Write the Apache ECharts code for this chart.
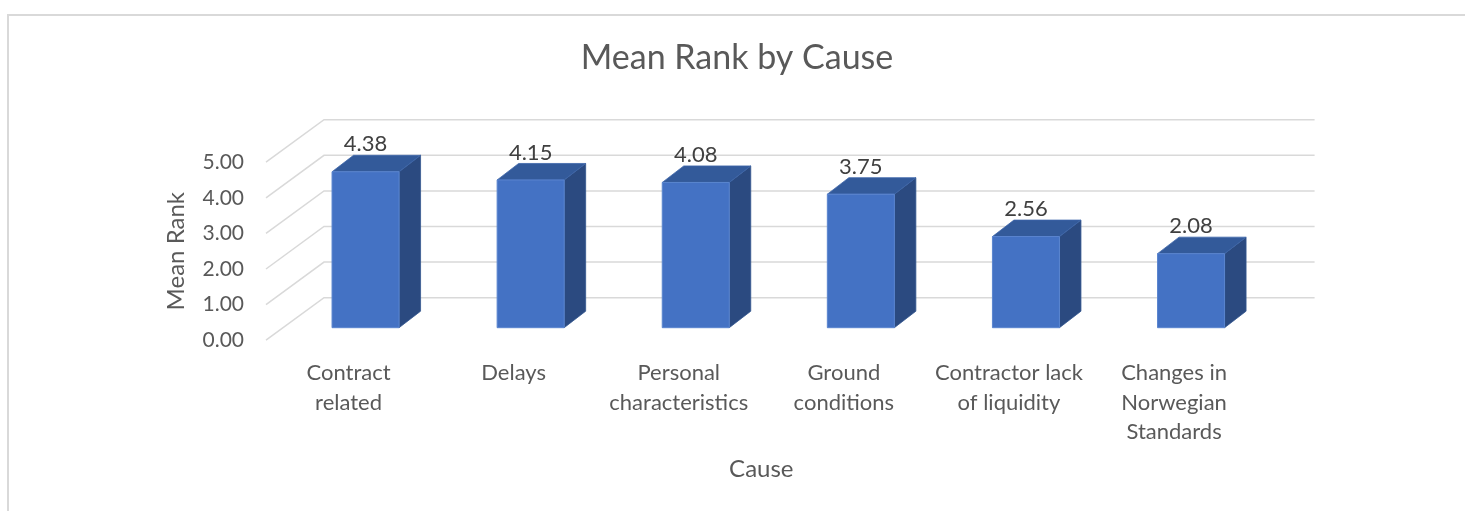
<!DOCTYPE html>
<html>
<head>
<meta charset="utf-8">
<script src="https://cdn.jsdelivr.net/npm/echarts@6/dist/echarts.min.js"></script>
<style>
html,body{margin:0;padding:0;background:#fff;}
#chart{width:1465px;height:511px;}
</style>
</head>
<body>
<div id="chart"></div>
<script>
const titleText = 'Mean Rank by Cause';
const xAxisTitle = 'Cause';
const yAxisTitle = 'Mean Rank';
const categories = ['Contract\nrelated', 'Delays', 'Personal\ncharacteristics', 'Ground\nconditions', 'Contractor lack\nof liquidity', 'Changes in\nNorwegian\nStandards'];
const meanRank = [4.38, 4.15, 4.08, 3.75, 2.56, 2.08];
const yTicks = [0, 1, 2, 3, 4, 5];

const FONT = 'Lato, "Open Sans", sans-serif';
const TEXT = '#595959';
// perspective offsets (pixels)
const FRONT = [-17, 12.5];
const BACK = [41, -30];
const DEPTH = [21.5, -16.5];

const chart = echarts.init(document.getElementById('chart'), null, {renderer: 'canvas'});

const option = {
  backgroundColor: '#fff',
  animation: false,
  graphic: [
    {type: 'rect', shape: {x: 8, y: 15, width: 1470, height: 520}, style: {fill: 'none', stroke: '#D9D9D9', lineWidth: 2}, z: 0},
    {type: 'text', x: 737, y: 58, style: {text: titleText, fill: TEXT, font: '34px ' + FONT, textAlign: 'center', textVerticalAlign: 'middle'}}
  ],
  grid: [
    {left: 283, right: 191.4, top: 149.7, bottom: 183.3},
    {left: 266, right: 208.4, top: 162.2, bottom: 170.8}
  ],
  xAxis: [
    {gridIndex: 0, type: 'category', data: categories, show: false},
    {gridIndex: 1, type: 'category', data: categories,
      axisLine: {show: false}, axisTick: {show: false}, splitLine: {show: false},
      axisLabel: {color: TEXT, fontFamily: FONT, fontSize: 22, lineHeight: 29.5, margin: 18, interval: 0},
      name: xAxisTitle, nameLocation: 'middle', nameGap: 117,
      nameTextStyle: {color: TEXT, fontFamily: FONT, fontSize: 24}
    }
  ],
  yAxis: [
    {gridIndex: 0, type: 'value', min: 0, max: 5, interval: 1, show: false},
    {gridIndex: 1, type: 'value', min: 0, max: 5, interval: 1,
      axisLine: {show: false}, axisTick: {show: false}, splitLine: {show: false},
      axisLabel: {color: TEXT, fontFamily: FONT, fontSize: 21, margin: 22, formatter: v => v.toFixed(2)},
      name: yAxisTitle, nameLocation: 'middle', nameGap: 78, nameRotate: 90,
      nameTextStyle: {color: TEXT, fontFamily: FONT, fontSize: 24}
    }
  ],
  series: [
    {
      type: 'custom', xAxisIndex: 0, yAxisIndex: 0, z: 1, silent: true,
      data: yTicks.map(v => [0, v]),
      renderItem: function (params, api) {
        const cs = params.coordSys;
        const y = api.coord([0, api.value(1)])[1];
        return {
          type: 'polyline',
          shape: {points: [
            [cs.x + FRONT[0], y + FRONT[1]],
            [cs.x + BACK[0], y + BACK[1]],
            [cs.x + cs.width + BACK[0], y + BACK[1]]
          ]},
          style: {stroke: '#D9D9D9', lineWidth: 1.5, fill: null}
        };
      }
    },
    {
      type: 'custom', xAxisIndex: 0, yAxisIndex: 0, z: 2,
      data: meanRank.map((v, i) => [i, v]),
      renderItem: function (params, api) {
        const i = api.value(0), v = api.value(1);
        const p0 = api.coord([i, 0]);
        const p1 = api.coord([i, v]);
        const w = api.size([1, 0])[0] * 0.406;
        const x = p0[0] - w / 2, y0 = p0[1], y1 = p1[1];
        const dx = DEPTH[0], dy = DEPTH[1];
        return {
          type: 'group',
          children: [
            {type: 'polygon', shape: {points: [[x + w, y1], [x + w + dx, y1 + dy], [x + w + dx, y0 + dy], [x + w, y0]]},
              style: {fill: '#2B4A80', stroke: '#34578F', lineWidth: 0.8}},
            {type: 'polygon', shape: {points: [[x, y1], [x + w, y1], [x + w + dx, y1 + dy], [x + dx, y1 + dy]]},
              style: {fill: '#335A9A', stroke: '#3D66AA', lineWidth: 0.8}},
            {type: 'rect', shape: {x: x, y: y1, width: w, height: y0 - y1},
              style: {fill: '#4472C4', stroke: '#5A85CF', lineWidth: 1}},
            {type: 'text', x: p0[0], y: y1 + dy,
              style: {text: v.toFixed(2), fill: '#404040', font: '22px ' + FONT, textAlign: 'center', textVerticalAlign: 'bottom'}}
          ]
        };
      }
    }
  ]
};
chart.setOption(option);
</script>
</body>
</html>
